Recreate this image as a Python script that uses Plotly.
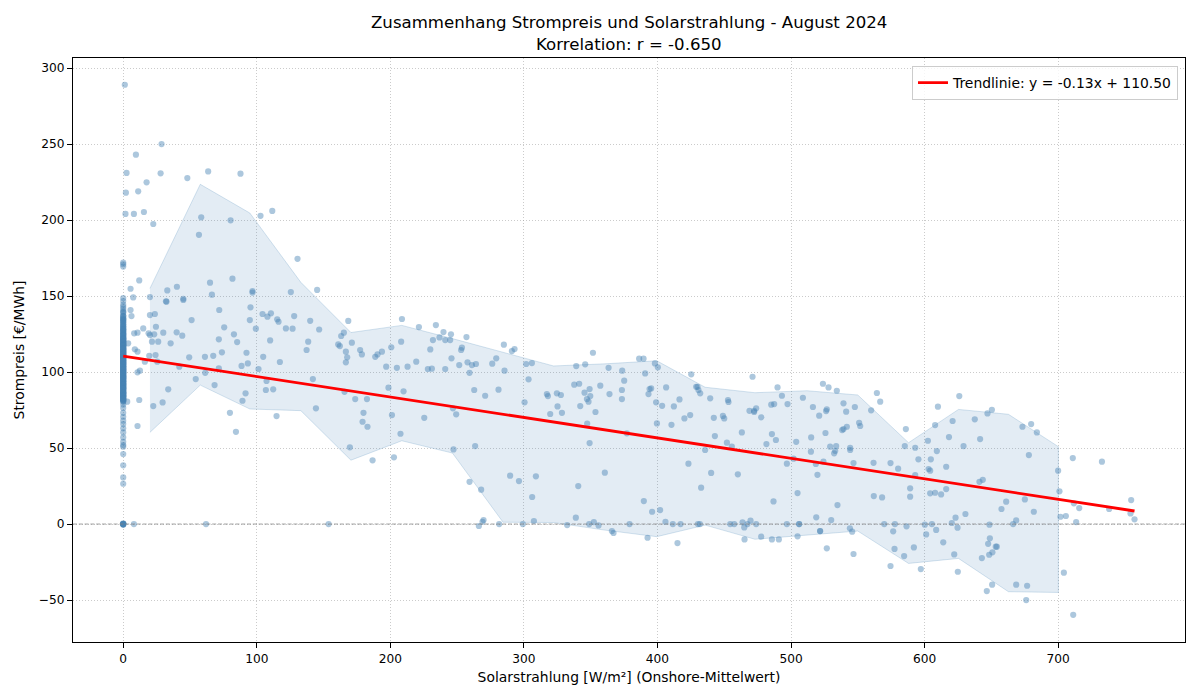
import plotly.graph_objects as go

# ---------------- data ----------------
# night hours (solar radiation = 0)
night_price = [
    141.6, 138.9, 136.4, 135.0, 133.7, 131.5, 130.2, 129.4, 127.8, 126.9, 125.2, 124.7, 123.0, 122.6,
    121.1, 120.4, 119.0, 118.3, 117.5, 116.1, 115.8, 114.2, 113.9, 112.5, 111.7, 110.9, 110.3, 109.2,
    108.6, 107.3, 106.5, 105.9, 104.4, 103.8, 102.9, 101.6, 100.5, 99.4, 98.7, 97.1, 96.6, 95.3, 94.8,
    93.2, 92.1, 91.5, 90.2, 89.3, 88.1, 87.4, 86.0, 85.3, 84.1, 83.2, 82.0, 81.3, 80.4,
    144.3, 140.1, 137.2, 134.6, 132.8, 130.9, 128.7, 127.2, 125.8, 124.1, 122.9, 121.7, 120.8, 119.6,
    118.7, 117.2, 116.6, 115.1, 114.5, 113.3, 112.2, 111.1, 110.6, 109.7, 108.2, 107.8, 106.1, 105.4,
    104.9, 103.3, 102.5, 101.2, 100.9, 99.9, 98.2, 97.6, 96.2, 95.7, 94.1, 93.6, 92.7, 91.1, 90.7, 89.8,
    88.6, 87.9, 86.5, 85.8, 84.6, 83.7, 82.6, 81.5,
    146.7, 142.9, 139.5, 136.8, 135.4, 133.1, 131.8, 129.9, 128.3, 126.4, 125.5, 123.8, 122.2, 121.4,
    120.2, 119.3, 118.0, 117.8, 116.9, 115.5, 114.8, 113.6, 112.9, 111.4, 110.1, 109.5, 108.9, 107.6,
    106.8, 105.6, 104.2, 103.6, 102.1, 101.8, 100.3, 99.2, 98.9, 97.8, 96.9, 95.5, 94.4, 93.9, 92.4,
    91.8, 90.5, 89.5, 88.9, 87.1, 86.7, 85.5, 84.3, 83.9, 82.8, 81.9, 80.8,
    134.2, 128.0, 124.4, 121.9, 119.8, 117.4, 115.3, 113.1, 111.9, 110.4, 109.0, 107.1, 105.1, 103.1,
    101.4, 99.7, 97.3, 95.9, 93.4, 91.6, 89.1, 86.3, 84.8, 82.3,
    148.7, 172.0, 170.9, 169.4, 78.6, 76.4, 73.2, 70.6, 68.0, 65.8, 63.0, 60.3, 57.0, 54.1, 52.0,
    50.9, 46.0, 38.6, 30.7, 26.5, 0.0, 0.0, 0.0, 0.0, 0.0, 0.0, 0.4, -0.5,
]
night_solar = [0.0] * len(night_price)

# daylight hours: solar radiation [W/m²]
day_solar = [
    1.2, 28.7, 9.5, 2.5, 28, 48, 63.6, 87.8, 17.5, 2, 11.2, 1.7, 8, 15.5, 22.5, 58.4, 80.4, 56.7, 102.8,
    111.6, 130.5, 12, 5.5, 7.5, 20, 33, 40.2, 45, 65, 66.4, 81.8, 96.8, 96.8, 125.5, 145.2, 32,
    6.2, 5.5, 8.2, 10.7, 15, 3.7, 8.7, 10.7, 16.2, 10.7, 12.5, 12, 10.7, 3, 20, 23.7, 19, 20, 23.2, 24.5,
    21.5, 26.2, 30, 19.5, 24.2, 25.5, 32.4, 45, 51.2, 35.5, 40, 44.2, 49.4, 42, 33.7, 29.5, 22.5, 54.3,
    61.4, 61.2, 67.4, 71.6, 75.6, 71.9, 73.9, 71.6, 68.4, 79.9, 84.4, 82.9, 85.3, 95.3, 94.8, 99.3,
    92.3, 93.3, 88.6, 101.3, 91.6, 89.3, 104.3, 108, 110.6, 115.3, 116.3, 128, 121.8, 126.8, 110,
    104.8, 117.3, 107.3, 106.8, 112.3, 114.8, 140, 146.7, 138.5, 137.3, 142, 144.3, 163.2, 165.2, 161,
    162.2, 168.5, 166.7, 167.7, 166.7, 165.7, 169.7, 171.2,
    8, 62, 153.8,
    177.4, 178.7, 188.7, 190.4, 193.7, 200.7, 208.1, 208.7, 221.4, 234.1, 231.9, 236.8, 239.8, 241.1,
    245.4, 244.8, 229.9, 219.4, 212.9, 204.9, 196.9, 228.1, 231.1, 241.1, 245.8, 251.6, 253, 253.6,
    257, 257.8, 261.1, 264.1, 259.3, 262.8, 271, 276.3, 279.3, 285, 285.5, 291, 293, 281, 301.7, 306,
    303.5, 300.5, 317.2, 318, 324.7, 327.7, 319.7, 325.2, 328.5, 339.2, 345.9, 351.7, 337.7, 341.4,
    345.4, 349.2, 349.7, 347.2, 348.4, 342.2, 353.6, 357.2, 364.1, 363.4, 373.6, 375.1, 373.4, 373.4,
    347.4, 349.2, 377.1, 198.6, 209.9, 201.2, 207.6, 225.4, 246.9, 249.3, 247.3, 263.5, 173.7, 182.5,
    179.9, 179.2, 182.9,
    186.7, 202.7, 259.3, 268, 266.3, 269, 269.8, 281.5, 289.7, 296.3, 309, 306.2, 299.2, 307.5, 332.4,
    338.9, 340.7, 360.6, 348.9, 352.4, 355.9, 365.9, 367.1, 379.1,
    392.6, 389.8, 396, 402, 406, 411.5, 417.3, 415, 423.2, 432.7, 440.2, 435.7, 430.3, 431.8, 454.5,
    457.5, 460.2, 463.7, 465, 467.4, 469.7, 473.9, 465.2, 477.7, 485.7, 490.9, 486.9, 496.9, 501.9,
    496.9, 504.9, 506.1, 506.1, 504.9, 514.9, 518.6, 519.8, 518.9, 521.8, 521.8, 526.8, 530.1, 534.8,
    532.3, 533.1, 524.3, 544.3, 546.8, 544.1, 545.8, 546.8, 561.8, 562, 568.2, 569.8, 574.5, 580.2,
    577.8, 576.5, 577.5, 574.5, 584.7, 586.5, 589.2, 589.2,
    386.3, 389.6, 398.1, 400.3, 390.8, 394.1, 395.3, 393.3, 406.5, 399, 403.5, 399.6, 410.5, 412.3,
    416.5, 420.2, 424.5, 425.3, 429, 430, 430.7, 432, 439.5, 442.2, 443, 449, 450, 452.8, 453.2, 452,
    455.7, 463.2, 471.2, 468.9, 472.4, 473.9, 472.4, 477.7, 481.6, 485.7, 488.7, 485.2, 487.4, 489.9,
    493.2, 497.4, 503.9, 508.9, 516.4, 515.1, 521.1, 523.9, 528.1, 534.3, 526.3, 526.8, 525.8, 529.3,
    533.8, 539.3, 541.3, 547.8, 538.3, 539.3, 541.8, 551, 551.8, 544.3, 560, 564.3, 566.8, 586, 585.2,
    593, 595.4, 604.7, 602.5, 609.2, 607.9, 610, 618.3, 621, 626, 629.2, 637.6, 641.6, 647.1, 650.4,
    673.3, 679.8, 684.1, 678.1, 711, 732.8,
    593, 603, 604.2, 616.2, 604.2, 607.9, 612.4, 616.2, 600.2, 605.5, 608.7, 601.2, 614, 592, 597.2,
    620.4, 623.2, 624.7, 622.2, 624.9, 630.6, 641.1, 643.6, 648.6, 648.9, 647.6, 654.1, 653.3, 650.8,
    648.4, 642.9, 650.6, 646.6, 657.6, 661.1, 666.3, 668.6, 668.6, 676.8, 676.1, 675.1, 681.8, 700,
    701, 701.8, 705.8, 704.3, 711.8, 715.8, 713.5, 711.3, 738.2, 754.7, 754.2, 757.2,
]

# daylight hours: electricity price [€/MWh]
day_price = [
    289, 250, 243, 231, 230.7, 227.6, 232, 230.5, 224.8, 218, 218.9, 204, 204, 205.3, 197.4, 201.8,
    199.8, 190.3, 202.8, 206, 174.5, 160.3, 154.8, 149.1, 149.3, 153.7, 156.1, 148.2, 158.8, 150.9,
    161.4, 153.3, 152.3, 152.6, 154, 146.5,
    136.8, 140.8, 125.5, 125.9, 128.7, 118.9, 115, 113.4, 106.8, 99.8, 100.9, 81.6, 64.5, 80.5, 137.5,
    138.2, 125.5, 124.3, 124.8, 129.8, 120, 120, 125.9, 110.7, 111.2, 106.8, 146.3, 147.4, 134.2,
    118.9, 126.1, 123.9, 109.7, 103.5, 88.6, 80, 77.6, 95.4, 99.5, 110, 110.7, 121.5, 129.4, 140.8,
    113, 102.4, 91.4, 73.2, 60.7, 124.8, 119.7, 142.6, 134.2, 128.5, 112.7, 105.7, 104, 102, 86, 81.1,
    138.2, 136.4, 138.6, 134.7, 133.1, 136.8, 128.7, 128.5, 120.8, 110, 106.6, 94.1, 88.2, 88.6, 71,
    133.7, 128, 120, 114.5, 95.4, 76.1, 123.7, 125.9, 118.2, 117.1, 133.6, 113.4, 109.7, 106.4, 87,
    50.5, 119.3,
    0, 0, 0,
    114.5, 111.6, 110, 111.6, 113.4, 116.3, 120, 134.9, 129.6, 130.9, 121, 122.8, 126.3, 121, 124.8,
    121, 114.9, 106.8, 103.5, 102.8, 103.5, 102, 102.2, 102, 109, 104.6, 114.5, 116, 123, 106.4, 104.6,
    105.3, 99.5, 88.2, 84.4, 105.5, 109, 118, 100.9, 113.8, 115.1, 88.4, 105.3, 105.9, 95.2, 80.1,
    85.5, 84.2, 86, 84.9, 72.4, 77.4, 73.2, 103.9, 105.1, 112.7, 91.7, 92.3, 86.4, 88.8, 84.2, 82.2,
    80.5, 77.6, 73.7, 91, 85.5, 102.8, 100.9, 94.3, 88.2, 82.2, 66, 53.3, 59.7, 89.7, 87.3, 71.7, 59.4,
    69.9, 76.1, 72.2, 49.1, 51.3, 82.2, 82.2, 73.2, 67.3, 64,
    41.9, 43.9, 27.8, 22.6, -1.3, 1.5, 2.6, 0, 31.8, 28.3, 31.4, 17.8, 0, 2, -0.7, 4.2, 25, 33.8, 0,
    1.3, -0.9, -4.6, -5.9, 0,
    -9, 15.1, 8.1, 9.2, 1.5, 0, 0, -12.5, 39.7, 23.9, 33.6, 48.7, 0, 0, 0, 0, 32.7, 1.1, -2.2, 0, 2.2,
    0, -10.1, -8.3, -10.1, -10.1, 14.9, 39.7, 43, 0, 20.4, 0, 0, -8.1, 47.6, 39.5, 32.4, 4.4, -4.6,
    -4.6, -16, 2.6, 12.5, 46.5, 48.2, 41, 48.7, 40.1, -2.8, -5, -19.7, 40.3, 18.4, 17.5, 0, 40.1,
    36.4, 0, -4.8, -16.4, -27.6, -21.1, -1.5, 23.5, 18,
    108.8, 108.8, 105.7, 103.1, 99.1, 88.8, 89.2, 85.5, 89.9, 80.1, 77.8, 66.2, 65.3, 77.4, 82, 69.5,
    71.7, 98.5, 90.3, 90.3, 88.2, 86, 82.7, 69.9, 57.9, 71.1, 69.5, 81.6, 80.3, 53.5, 50.9, 60.3, 96.9,
    74.5, 74.5, 76.1, 73.7, 70.2, 52.6, 59.2, 55.3, 78.5, 78.9, 89.9, 84.4, 78.9, 54.1, 83.1, 77, 57,
    71.3, 92.3, 89.9, 87.7, 74.3, 75.5, 59.9, 50.9, 51.3, 79.4, 73.9, 77, 61.8, 62.5, 64, 66.6, 64.5,
    50.2, 74.8, 86.2, 80.5, 62.5, 51.3,
    50.2, 42.6, 42.6, 54.8, 48, 65.1, 77.2, 57.2, 67.8, 84.2, 51.3, 68.9, 55.9, 72.8, 75.2, 64, 65.8,
    60.3, 45.4, 43.4, 41,
    32.2, 36.2, 35.1, 37.7, 20.2, 20.6, 19.5, 23, -0.4, 0, -3.9, -6.8, -12, -15.4, -29.6, 0.7, 4.2,
    -2.4, -20, -31.4, 6.6, 27.8, 29.1, -0.4, -9.4, -13, -14.9, -14.9, -18.6, -20.2, -22.4, -39.9,
    -44.1, 9.9, 14.7, 0, 2.4, -39.9, -40.6, -50, 16.2, 8.1, 35.1, 21.5, 4.8, 5.3, -32, 13.6, 10.5,
    1.3, -59.7, 9.9, 15.8, 7, 3.1,
]

# binned band (bin centres, upper / lower edge)
band_x = [20, 57.7, 94.8, 133, 170.5, 208.6, 246.5, 284.4, 322.2, 360.6, 399.5, 435.7, 473, 512,
          550, 588, 625.4, 662.8, 700.2]
band_upper = [155, 223.5, 204.6, 159, 126, 130.7, 122, 112.8, 104, 105.4, 107.4, 90, 86.4, 87.7,
              84.9, 53.5, 75.4, 72.2, 50.9]
band_lower = [60.3, 91.4, 75.7, 74.6, 42, 54.8, 46.7, 1.2, 1.0, -4, -8.3, -0.7, -10, -7.4, -4.6,
              -25.9, -22.6, -44.5, -45]

# trend line
trend_slope = -0.1346
trend_intercept = 110.5
correlation_r = -0.650

title_line1 = "Zusammenhang Strompreis und Solarstrahlung - August 2024"
title_line2 = f"Korrelation: r = {correlation_r:.3f}"

# ---------------- figure ----------------
solar = night_solar + day_solar
price = night_price + day_price

FONT = "DejaVu Sans"
fig = go.Figure()

fig.add_trace(go.Scatter(
    x=band_x + band_x[::-1], y=band_upper + band_lower[::-1],
    fill="toself", fillcolor="rgba(70,130,180,0.15)",
    line=dict(color="rgba(70,130,180,0.22)", width=1),
    mode="lines", showlegend=False, hoverinfo="skip"))

fig.add_trace(go.Scatter(
    x=solar, y=price, mode="markers",
    marker=dict(color="rgb(70,130,180)", size=6.2, opacity=0.45, line=dict(width=0)),
    showlegend=False))

x0, x1 = 0, max(solar)
fig.add_trace(go.Scatter(
    x=[x0, x1], y=[trend_slope * x0 + trend_intercept, trend_slope * x1 + trend_intercept],
    mode="lines", line=dict(color="red", width=2.8),
    name=f"Trendlinie: y = {trend_slope:.2f}x + {trend_intercept:.2f}"))

fig.add_hline(y=0, line=dict(color="rgba(128,128,128,0.75)", width=1, dash="4px,1.8px"))

axis_common = dict(
    showline=True, mirror=True, linecolor="black", linewidth=1,
    ticks="outside", ticklen=5, tickwidth=1, tickcolor="black",
    showgrid=True, gridcolor="rgba(160,160,160,0.55)", griddash="1px,2px", gridwidth=1,
    zeroline=False, tickfont=dict(family=FONT, size=12.2, color="black"),
)

fig.update_layout(
    width=1200, height=700,
    margin=dict(l=73, r=15, t=58, b=58),
    plot_bgcolor="white", paper_bgcolor="white",
    font=dict(family=FONT, color="black"),
    annotations=[
        dict(text=title_line1, x=0.5, xref="paper", xanchor="center",
             y=(642 - 23) / 584, yref="paper", yanchor="middle", showarrow=False,
             font=dict(family=FONT, size=16.6, color="black")),
        dict(text=title_line2, x=0.5, xref="paper", xanchor="center",
             y=(642 - 44) / 584, yref="paper", yanchor="middle", showarrow=False,
             font=dict(family=FONT, size=16.6, color="black")),
    ],
    xaxis=dict(range=[-37.6, 795], tickvals=[0, 100, 200, 300, 400, 500, 600, 700],
               title=dict(text="Solarstrahlung [W/m²] (Onshore-Mittelwert)",
                          font=dict(family=FONT, size=13.9), standoff=7),
               **axis_common),
    yaxis=dict(range=[-77.6, 306.6], tickvals=[-50, 0, 50, 100, 150, 200, 250, 300],
               title=dict(text="Strompreis [€/MWh]", font=dict(family=FONT, size=13.9), standoff=10),
               **axis_common),
    legend=dict(x=0.9937, y=0.986, xanchor="right", yanchor="top",
                bgcolor="rgba(255,255,255,0.8)", bordercolor="rgba(204,204,204,1)", borderwidth=1,
                font=dict(family=FONT, size=13.9, color="black")),
    showlegend=True,
)

fig.write_html("out.html")
